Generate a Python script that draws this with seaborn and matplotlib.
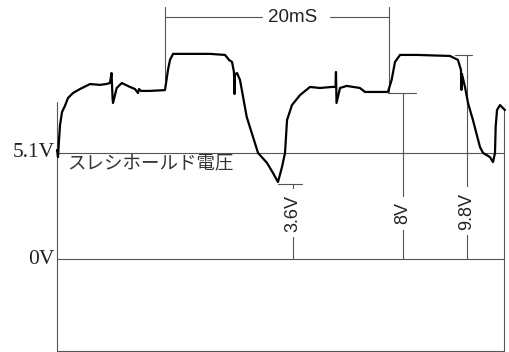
import numpy as np
import pandas as pd
import matplotlib
matplotlib.use("Agg")
import matplotlib.pyplot as plt
import seaborn as sns

# ==============================
# Data (time in ms, voltage in V)
# ==============================
t_ms = [0.0, 0.09, 0.18, 0.27, 0.45, 0.71, 0.98, 1.43, 2.05, 2.95, 3.84, 4.38, 4.73,
        4.87, 4.96, 5.0, 5.33, 5.78, 6.52, 6.96, 7.23, 7.32, 7.5, 8.3, 9.64, 9.78,
        9.91, 10.09, 10.36, 11.88, 13.66, 15.0, 15.36, 15.63, 15.8, 15.85, 15.89,
        16.07, 16.34, 16.94, 17.5, 17.95, 18.75, 19.29, 19.73, 20.09, 20.36, 20.54,
        20.98, 21.7, 22.59, 23.48, 24.53, 24.87, 24.91, 24.96, 25.27, 25.87, 27.05,
        27.5, 29.55, 29.88, 30.18, 30.63, 32.14, 35.09, 35.8, 36.07, 36.12, 36.16,
        36.43, 36.7, 37.14, 37.77, 38.04, 38.66, 38.93, 39.11, 39.17, 39.29, 39.55, 40.0]
volts = [5.24, 4.90, 5.72, 6.44, 7.07, 7.36, 7.74, 7.98, 8.17, 8.41, 8.37, 8.41, 8.46,
         8.94, 7.74, 7.5, 8.22, 8.46, 8.27, 8.17, 7.98, 8.17, 8.08, 8.08, 8.12, 8.61,
         9.09, 9.57, 9.86, 9.86, 9.86, 9.81, 9.57, 9.47, 8.99, 7.93, 8.85,
         8.94, 8.61, 6.83, 5.87, 5.10, 4.62, 4.13, 3.70, 4.42, 5.10, 6.68,
         7.40, 7.88, 8.27, 8.22, 8.27, 8.27, 8.99, 7.5, 8.22, 8.32, 8.22,
         8.03, 8.03, 8.61, 9.47, 9.81, 9.81, 9.76, 9.57, 9.09, 8.13, 8.89,
         8.27, 7.5, 6.68, 5.38, 5.10, 4.90, 4.66, 5.10, 6.35, 7.16, 7.40, 7.16]

level_labels = ["5.1V", "0V"]
level_volts = [5.1, 0.0]

marker_labels = ["3.6V", "8V", "9.8V"]
marker_volts = [3.6, 8.0, 9.8]
marker_t = [21.1, 30.9, 36.6]
marker_tick_from = [19.7, 29.6, 35.5]
marker_tick_to = [21.9, 32.05, 37.05]
marker_text_v = [2.2, 2.2, 2.3]

period_start = 9.64
period_end = 29.64
period_label = "20mS"

trace = pd.DataFrame({"t": t_ms, "v": volts})

# ==============================
# Figure
# ==============================
sns.set_style("white")
fig = plt.figure(figsize=(5.09, 3.52), dpi=100)
ax = fig.add_axes([0, 0, 1, 1])
ax.set_xlim(-5.09, 40.36)
ax.set_ylim(-4.47, 12.45)
ax.axis("off")

grey = "#555555"
thin = 0.8

# frame
ax.plot([0, 0], [7.55, -4.4], color=grey, lw=thin)
ax.plot([0, 39.9], [-4.4, -4.4], color=grey, lw=thin)
ax.plot([39.9, 39.9], [7.2, -4.4], color=grey, lw=thin)

# reference levels
for lab, v in zip(level_labels, level_volts):
    ax.plot([0, 39.9], [v, v], color=grey, lw=thin)
    ax.text(-0.2, v, lab, ha="right", va="center", fontsize=15.5,
            family="Liberation Serif", color="#222222")

ax.text(0.95, 4.62, "スレシホールド電圧", ha="left", va="center", fontsize=13.3,
        family=["Noto Sans CJK JP", "DejaVu Sans"], color="#333333")

# 20 ms span
for tt, vb in zip([period_start, period_end], [8.6, 8.05]):
    ax.plot([tt, tt], [12.1, vb], color=grey, lw=thin)
ax.plot([period_start, 18.3], [11.63, 11.63], color=grey, lw=thin)
ax.plot([24.4, period_end], [11.63, 11.63], color=grey, lw=thin)
ax.text((period_start + period_end) / 2 + 1.4, 11.63, period_label, ha="center",
        va="center", fontsize=13.5, family="Liberation Sans", color="#222222")

# voltage markers
for lab, v, tt, a, b, tv in zip(marker_labels, marker_volts, marker_t,
                                 marker_tick_from, marker_tick_to, marker_text_v):
    ax.plot([a, b], [v, v], color=grey, lw=thin)
    ax.plot([tt, tt], [v, 0], color=grey, lw=thin)
    ax.text(tt, tv, lab, rotation=90, ha="center", va="center", fontsize=13,
            family="Liberation Sans", color="#222222",
            bbox=dict(boxstyle="square,pad=0.3", fc="white", ec="none"))

# waveform
sns.lineplot(data=trace, x="t", y="v", sort=False, estimator=None, ax=ax,
             color="black", lw=1.6)

fig.savefig("out.png", dpi=100, facecolor="white")
